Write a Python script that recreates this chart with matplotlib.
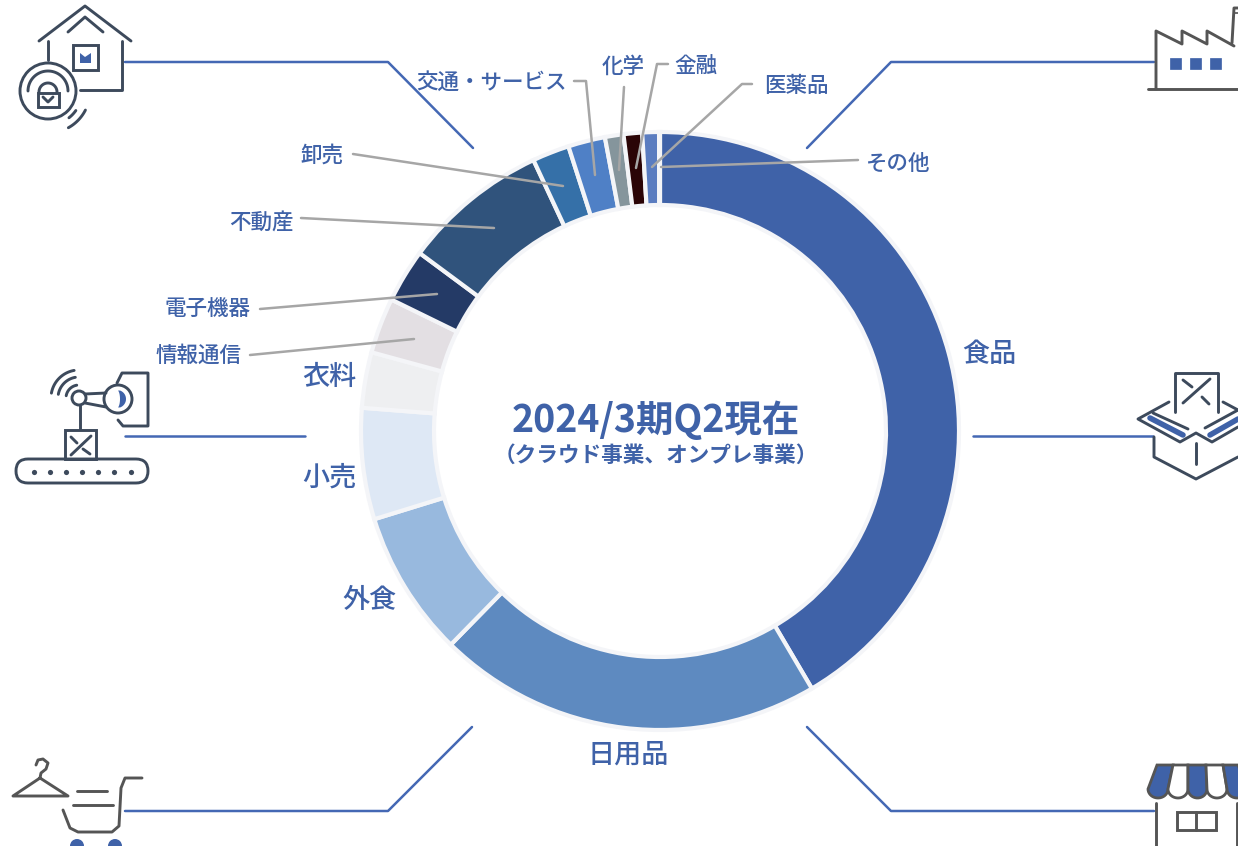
import numpy as np
import matplotlib
matplotlib.use('Agg')
import matplotlib.pyplot as plt
from matplotlib.patches import Circle, Rectangle, Polygon, FancyBboxPatch

plt.rcParams['font.family'] = ['Noto Sans CJK JP', 'DejaVu Sans']

# data
sectors = ['食品', '日用品', '外食', '小売', '衣料', '情報通信', '電子機器', '不動産',
           '卸売', '交通・サービス', '化学', '金融', '医薬品', 'その他']
shares = [41.5, 20.8, 7.9, 6.0, 3.0, 3.0, 2.9, 7.9, 2.0, 2.0, 1.0, 1.0, 0.9, 0.05]
colors = ['#3f62a8', '#5e8ac0', '#98b9de', '#dee8f5', '#eeeff1', '#e3dfe3', '#243a66', '#30537c',
          '#3570a8', '#4f80c6', '#85959c', '#2a0406', '#5a7cc0', '#3f62a8']

# label layout in image pixels
label_xy = [(989, 354), (628, 755), (370, 601), (329, 478), (329, 377), (198, 356), (208, 309), (261, 224),
            (322, 156), (491, 83), (623, 67), (696, 67), (796, 86), (898, 164)]
label_size = [19.5, 19.5, 19.5, 19.5, 19.5, 15.5, 15.5, 15.5, 15.5, 15.5, 15.5, 15.5, 15.5, 15.5]

leaders = [
    [(250, 355), (414, 339)],
    [(260, 309), (437, 294)],
    [(301, 218), (494, 228)],
    [(353, 154), (563, 186)],
    [(574, 81), (586, 81), (595, 175)],
    [(624, 87), (619, 170)],
    [(668, 64), (657, 64), (636, 168)],
    [(752, 84), (742, 84), (652, 167)],
    [(858, 160), (661, 167)],
]
connectors = [
    [(125, 62), (388, 62), (473, 148)],
    [(807, 148), (891, 62), (1154, 62)],
    [(125, 436), (305, 436)],
    [(973, 436), (1153, 436)],
    [(125, 811), (388, 811), (472, 727)],
    [(807, 727), (891, 811), (1154, 811)],
]

BLUE = '#3f62a8'
NAVY = '#3d4a5c'
GREY = '#555555'

fig = plt.figure(figsize=(12.38, 8.46), dpi=100)
ax = fig.add_axes([0, 0, 1, 1])

# y grows downward here, so counterclock runs clockwise on screen
ax.pie(shares, colors=colors, center=(660, 431), radius=299, startangle=-90, counterclock=True,
       wedgeprops=dict(width=73, edgecolor='#f4f5f8', linewidth=3))
ax.set_xlim(0, 1238)
ax.set_ylim(846, 0)
ax.axis('off')


def line(pts, color=NAVY, lw=2.1):
    xs, ys = zip(*pts)
    ax.plot(xs, ys, color=color, lw=lw, solid_capstyle='round', solid_joinstyle='round')


def arc(cx, cy, r, a0, a1, color=NAVY, lw=2.1):
    t = np.radians(np.linspace(a0, a1, 40))
    ax.plot(cx + r * np.cos(t), cy + r * np.sin(t), color=color, lw=lw, solid_capstyle='round')


def circle(cx, cy, r, color=NAVY, lw=2.1, fc='none'):
    ax.add_patch(Circle((cx, cy), r, fc=fc, ec=color, lw=lw))


def rect(x0, y0, x1, y1, color=NAVY, lw=2.1, fc='none'):
    ax.add_patch(Rectangle((x0, y0), x1 - x0, y1 - y0, fc=fc, ec=color, lw=lw))


for pts in connectors:
    line(pts, color='#4468b4', lw=1.8)
for pts in leaders:
    line(pts, color='#a6a6a6', lw=1.8)

for name, (x, y), size in zip(sectors, label_xy, label_size):
    ax.text(x, y, name, color=BLUE, fontsize=size, fontweight='medium', ha='center', va='center')

ax.text(656, 420, '2024/3期Q2現在', color=BLUE, fontsize=27, fontweight='bold', ha='center', va='center')
ax.text(656, 455, '（クラウド事業、オンプレ事業）', color=BLUE, fontsize=15.6, fontweight='bold', ha='center', va='center')

# house + lock icon
line([(39, 41), (85, 6), (131, 41)])
line([(68, 32), (85, 17), (103, 32)])
line([(48, 41), (48, 60)])
line([(122, 41), (122, 90), (80, 90)])
rect(73, 45, 98, 70)
ax.add_patch(Polygon([(80, 53), (85, 57), (91, 53), (91, 63), (80, 63)], fc=BLUE, ec='none'))
circle(48, 91, 28)
arc(48, 91, 20, 180, 360)
rect(38, 93, 59, 107)
arc(48, 92, 9, 180, 360)
line([(43, 97), (48, 102), (53, 97)])
arc(48, 91, 34, 35, 52)
arc(48, 91, 42, 27, 61)

# factory icon
line([(1148, 89), (1238, 89)], color=GREY)
line([(1156, 89), (1156, 31), (1182, 44), (1182, 31), (1207, 44), (1207, 31), (1234, 46)], color=GREY)
line([(1232, 43), (1234, 8), (1238, 8)], color=GREY)
line([(1234, 13), (1238, 13)], color=GREY, lw=1.2)
for x0 in [1170, 1190, 1210]:
    rect(x0, 58, x0 + 11, 69, color=BLUE, lw=0.5, fc=BLUE)

# robot arm icon
line([(117, 383), (122, 373), (148, 373), (148, 426), (123, 426), (118, 420)])
circle(118, 399, 14, fc='white')
t = np.radians(np.linspace(-70, 70, 30))
crescent = np.r_[np.c_[117 + 9 * np.cos(t), 399 + 9 * np.sin(t)],
                 np.c_[117 + 3 * np.cos(t[::-1]), 399 + 9 * np.sin(t[::-1])]]
ax.add_patch(Polygon(crescent, fc=BLUE, ec='none', zorder=3))
circle(79, 398, 7)
line([(85, 394), (106, 393)])
line([(85, 403), (106, 407)])
line([(80, 405), (80, 429)])
rect(65, 430, 96, 459)
line([(91, 436), (71, 455)])
line([(71, 437), (77, 443)])
line([(83, 449), (90, 454)])
ax.add_patch(FancyBboxPatch((16, 459), 132, 24, boxstyle='round,pad=0,rounding_size=12',
                            fc='none', ec=NAVY, lw=2.1))
ax.scatter([34, 50, 66, 82, 98, 114, 131], [472] * 7, s=14, color=NAVY, linewidths=0)
for r in [13, 21, 28]:
    arc(79, 398, r, 190, 260)

# box icon
line([(1175, 412), (1175, 373), (1218, 373), (1218, 412)])
line([(1183, 403), (1210, 379)])
line([(1183, 380), (1192, 387)])
line([(1202, 397), (1209, 404)])
line([(1169, 402), (1138, 419), (1180, 442), (1196, 433), (1212, 442), (1238, 427)])
line([(1223, 402), (1238, 410)])
line([(1153, 413), (1188, 429)])
line([(1205, 428), (1238, 410)])
line([(1150, 418), (1183, 435)], color=BLUE, lw=4)
line([(1210, 435), (1238, 419)], color=BLUE, lw=4)
line([(1154, 437), (1154, 457), (1196, 479), (1238, 457)])
line([(1196, 443), (1196, 464)])

# hanger + basket icon
line([(36, 765), (38, 760), (43, 759), (48, 763), (46, 769), (41, 773), (40, 778)], color=GREY)
line([(40, 778), (13, 796), (68, 796), (40, 778)], color=GREY)
line([(77, 791), (107, 791)], color=GREY)
line([(73, 805), (113, 805)], color=GREY)
line([(63, 810), (70, 828), (78, 832), (112, 832), (119, 826), (121, 788), (125, 778), (142, 778)], color=GREY)
circle(77, 846, 7, color=BLUE, fc=BLUE, lw=0)
circle(115, 846, 7, color=BLUE, fc=BLUE, lw=0)

# shop icon
tops = [1157, 1173, 1188, 1206, 1223, 1238]
bottoms = [1148, 1168, 1188, 1207, 1227, 1247]
for i in range(5):
    r = (bottoms[i + 1] - bottoms[i]) / 2
    t = np.radians(np.linspace(0, 180, 20))
    scallop = np.c_[bottoms[i] + r + r * np.cos(t), 789 + 9 * np.sin(t)]
    pts = np.r_[[[tops[i], 765], [tops[i + 1], 765]], scallop]
    ax.add_patch(Polygon(pts, fc=BLUE if i % 2 == 0 else 'white', ec=GREY, lw=2))
line([(1156, 803), (1156, 846)], color=GREY)
line([(1237, 803), (1237, 846)], color=GREY)
rect(1177, 812, 1216, 830, color=GREY)
line([(1196, 812), (1196, 830)], color=GREY)

fig.savefig('out.png', dpi=100)
